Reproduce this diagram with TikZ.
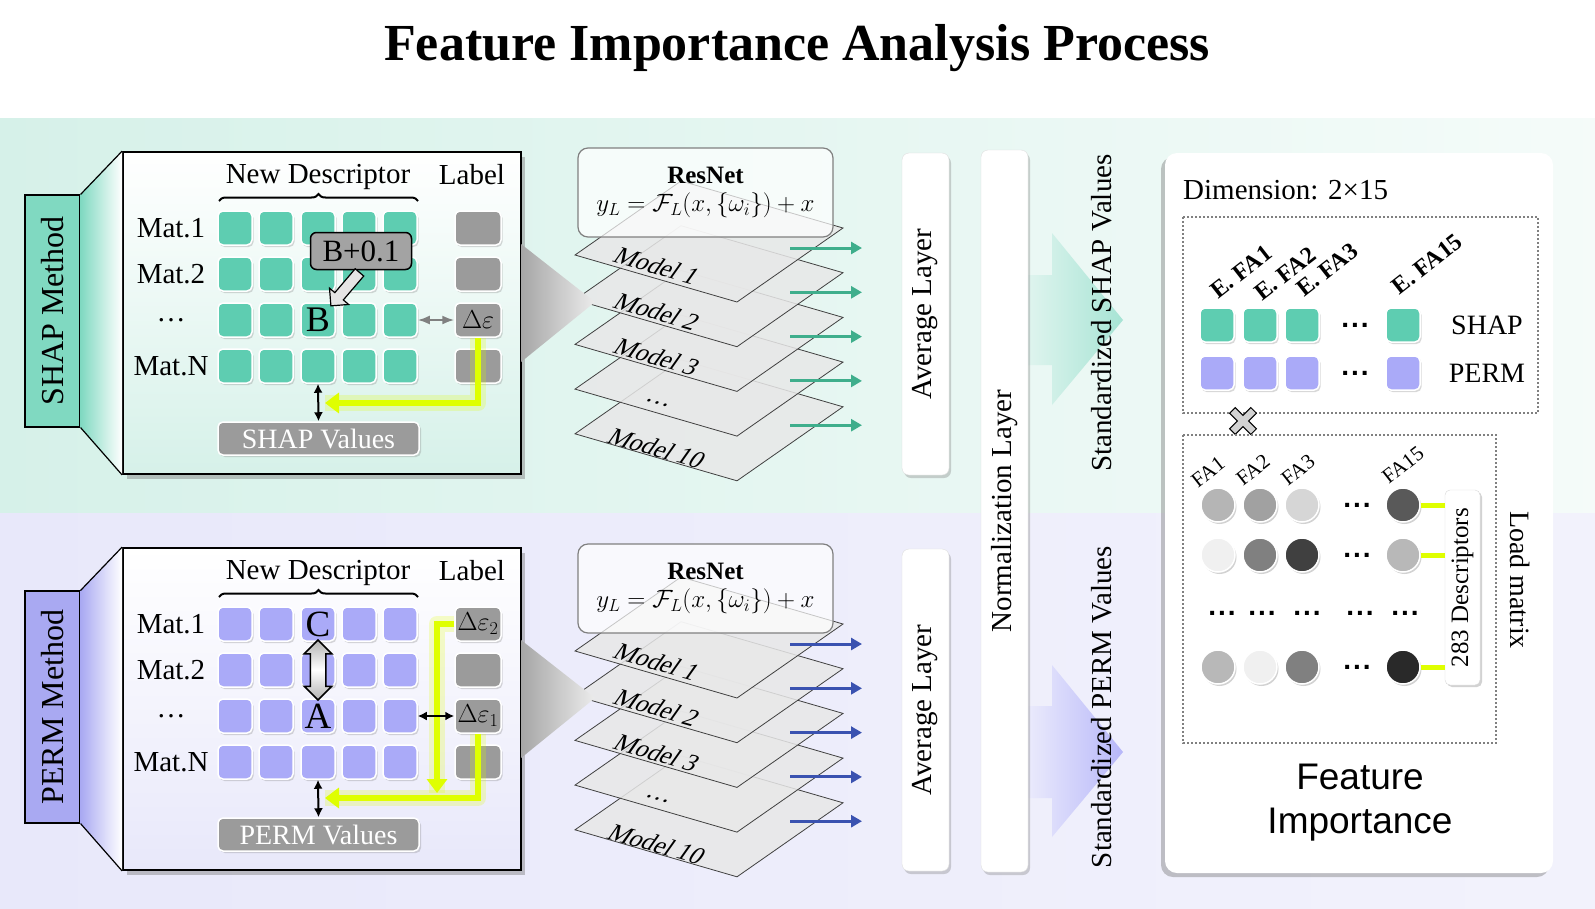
\RequirePackage{fix-cm}
\documentclass[tikz,border=0pt]{standalone}
\usepackage{graphicx}
\usepackage{fontspec}
\setmainfont{Liberation Serif}
\setsansfont{Liberation Sans}
\usetikzlibrary{positioning,shadows,shapes.arrows,decorations.pathreplacing,arrows.meta}

\newcommand{\fsz}[1]{\fontsize{#1}{#1}\selectfont}
\newcommand{\bdots}{{\sffamily\bfseries .\kern2pt.\kern2pt.}}

\definecolor{shapgreen}{HTML}{5ECDB1}
\definecolor{permblue}{HTML}{AAAAF8}
\definecolor{shapbox}{HTML}{80D9C1}
\definecolor{permbox}{HTML}{A9A9F2}
\definecolor{shapbg}{HTML}{D6F1E9}
\definecolor{permbg}{HTML}{E8E8FA}
\definecolor{lblgray}{HTML}{9B9B9B}
\definecolor{glowyellow}{HTML}{DFFF00}
\definecolor{shaparrow}{HTML}{3FAE8C}
\definecolor{permarrow}{HTML}{3A52B0}

\tikzset{
  txt/.style={font=\fsz{29}, inner sep=0pt},
  celltxt/.style={font=\fsz{26}, inner sep=0pt},
  cell/.style={draw=white, line width=1.5pt, rounded corners=5pt, minimum width=34pt, minimum height=34pt, inner sep=0pt,
    drop shadow={opacity=0.3, shadow xshift=1.5pt, shadow yshift=-2pt}},
  lblcell/.style={cell, fill=lblgray, minimum width=46pt},
  methodbox/.style={draw, line width=1.2pt, minimum width=55pt, minimum height=232pt, inner sep=0pt, font=\fsz{32}},
  panel/.style={draw, line width=1.8pt, minimum width=398pt, minimum height=322pt, inner sep=0pt,
    drop shadow={opacity=0.45, shadow xshift=4pt, shadow yshift=-5pt}},
  valbox/.style={fill=lblgray, draw=white, line width=1.5pt, rounded corners=5pt, minimum width=201pt, minimum height=33pt,
    inner sep=0pt, text=white, font=\fsz{28}, drop shadow={opacity=0.3, shadow xshift=2pt, shadow yshift=-2pt}},
  plate/.style={draw=black!75, line width=0.8pt, fill=gray!18, fill opacity=0.85},
  platelbl/.style={font=\fsz{25}, rotate=-16, xslant=0.35, inner sep=0pt},
  resbox/.style={draw=gray, line width=1.2pt, rounded corners=10pt, fill=white, fill opacity=0.7, text opacity=1,
    minimum width=255pt, minimum height=89pt, align=center, font=\fsz{25}},
  modelarrow/.style={line width=3pt, -{Triangle[length=11pt,width=12pt]}},
  layerbox/.style={fill=white, draw=gray!25, rounded corners=7pt, minimum width=47pt, inner sep=0pt, font=\fsz{29},
    drop shadow={opacity=0.35, shadow xshift=2pt, shadow yshift=-3pt}},
  glow/.style={line width=16pt, draw=glowyellow, opacity=0.22, line join=round},
  yline/.style={line width=6pt, draw=glowyellow, -{Triangle[length=14pt,width=20pt]}},
  blkarrow/.style={line width=2pt, {Latex[length=9pt,width=9pt]}-{Latex[length=9pt,width=9pt]}},
  hollowarrow/.style={single arrow, draw, line width=1.2pt, fill=gray!20, minimum height=44pt, inner sep=5pt,
    single arrow head extend=7pt},
  swaparrow/.style={double arrow, draw, line width=1.5pt, top color=gray!60, bottom color=gray!60, middle color=white,
    minimum height=60pt, inner sep=7pt, double arrow head extend=6pt, rotate=90},
  fipanel/.style={fill=white, rounded corners=12pt, minimum width=388pt, minimum height=720pt,
    drop shadow={opacity=0.45, shadow xshift=-4pt, shadow yshift=-4pt}},
  dotbox/.style={draw=gray, line width=1.5pt, dash pattern=on 2pt off 2pt},
  efa/.style={font=\bfseries\fsz{24}, rotate=38, inner sep=0pt},
  falbl/.style={font=\fsz{21}, rotate=38, inner sep=0pt},
  bigdots/.style={font=\fsz{28}, inner sep=0pt},
  facirc/.style={circle, draw=white, line width=1.5pt, minimum size=34pt, inner sep=0pt,
    drop shadow={opacity=0.35, shadow xshift=1.5pt, shadow yshift=-2pt}},
  descbox/.style={fill=white, draw=gray!30, rounded corners=5pt, minimum width=35pt, minimum height=195pt, inner sep=0pt,
    font=\fsz{25}, drop shadow={opacity=0.35, shadow xshift=2pt, shadow yshift=-2pt}},
  ylink/.style={line width=5pt, draw=glowyellow}
}

\begin{document}
\begin{tikzpicture}[x=1pt, y=-1pt, >=Latex]
\useasboundingbox (0,0) rectangle (1595,908);

% background bands
\fill[white] (0,0) rectangle (1595,118);
\shade[left color=shapbg, right color=shapbg!25!white] (0,118) rectangle (1595,513);
\shade[left color=permbg, right color=permbg!55!white] (0,513) rectangle (1595,908);

\node[font=\bfseries\fsz{52}] (title) at (797,48) {Feature Importance Analysis Process};

% SHAP block (top) and PERM block (bottom)
\foreach \hp/\off/\cellc/\boxc/\bgc/\arrc/\meth in {s/0/shapgreen/shapbox/shapbg/shaparrow/SHAP, p/396/permblue/permbox/permbg/permarrow/PERM} {
  \node[panel, top color=white, bottom color=\bgc] (\hp-panel) at (322,313+\off) {};
  \node[methodbox, fill=\boxc] (\hp-meth) at (52.5,311+\off) {\rotatebox{90}{\meth\ Method}};
  \shade[left color=\boxc, right color=white] (\hp-meth.north east) -- (\hp-panel.north west) -- (\hp-panel.south west) -- (\hp-meth.south east) -- cycle;
  \draw[line width=1.2pt] (\hp-meth.north east) -- (\hp-panel.north west) (\hp-meth.south east) -- (\hp-panel.south west);

  \node[txt, anchor=base] (\hp-newd) at (318,183+\off) {New Descriptor};
  \node[txt, anchor=base] (\hp-lab) at (472,184+\off) {Label};
  \draw[line width=2pt, decorate, decoration={brace, amplitude=7pt}] (219,201+\off) -- (418,201+\off);

  \foreach \r/\y/\mat in {1/228/Mat.1, 2/274/Mat.2, 3/320/\dots, 4/366/Mat.N} {
    \node[txt] (\hp-m\r) at (171,\y+\off) {\mat};
    \foreach \c/\x in {1/235, 2/276, 3/318, 4/359, 5/400}
      \node[cell, fill=\cellc] (\hp-\r\c) at (\x,\y+\off) {};
    \node[lblcell] (\hp-l\r) at (478,\y+\off) {};
  }

  % ten ResNet models
  \foreach \i/\lab in {4/Model 10, 3/\dots, 2/Model 3, 1/Model 2, 0/Model 1} {
    \draw[plate] (575,255+44.7*\i+\off) -- (737,302+44.7*\i+\off) -- (843,228+44.7*\i+\off) -- (681,181+44.7*\i+\off) -- cycle;
    \node[platelbl] (\hp-mod\i) at (657,266+45.5*\i+\off) {\lab};
  }
  \node[resbox] (\hp-res) at (705.5,192.5+\off) {\textbf{ResNet}\\[3pt]$y_L=\mathcal{F}_L(x,\{\omega_i\})+x$};
  \foreach \i in {0,...,4} {
    \coordinate (\hp-a\i) at (790,248+44.3*\i+\off);
    \coordinate (\hp-b\i) at (862,248+44.3*\i+\off);
    \draw[modelarrow, color=\arrc] (\hp-a\i) -- (\hp-b\i);
  }
  \shade[left color=gray!70, right color=gray!15] (521,244+\off) -- (595,302+\off) -- (521,362+\off) -- cycle;

  \node[layerbox, minimum height=322pt] (\hp-avg) at (925.5,314+\off) {\rotatebox{90}{Average Layer}};

  \node[valbox] (\hp-val) at (318.5,438.5+\off) {\meth\ Values};
  \draw[blkarrow] (\hp-43.south) -- (\hp-val.north);
}

% SHAP: perturb one descriptor
\node[fill=black!36, draw, line width=1.5pt, rounded corners=6pt, minimum width=101pt, minimum height=37pt, inner sep=0pt, font=\fsz{31}] (bplus) at (361,251) {B+0.1};
\node[hollowarrow, rotate=229.5] (barrow) at (347,287) {};
\node[celltxt, font=\fsz{36}] (bval) at (s-33) {B};
\draw[<->, gray, line width=2pt] (s-35) -- (s-l3);
\node[celltxt] (sde) at (s-l3) {$\Delta\varepsilon$};
\coordinate (s-yend) at (325,403);
\draw[glow] (s-l3.south) |- (s-yend);
\draw[yline] (s-l3.south) |- (s-yend);

% PERM: swap two entries
\node[swaparrow] (pswap) at (p-23) {};
\node[celltxt, font=\fsz{37}] (cval) at (p-13) {C};
\node[celltxt, font=\fsz{37}] (aval) at (p-33) {A};
\node[celltxt] (pde2) at (p-l1) {$\Delta\varepsilon_2$};
\node[celltxt] (pde1) at (p-l3) {$\Delta\varepsilon_1$};
\coordinate (p-ydown) at (437,793);
\coordinate (p-yend) at (325,798);
\draw[glow] (p-l1.west) -| (p-ydown);
\draw[yline] (p-l1.west) -| (p-ydown);
\draw[glow] (p-l3.south) |- (p-yend);
\draw[yline] (p-l3.south) |- (p-yend);
\draw[blkarrow] (p-35) -- (p-l3);

% standardized value arrows
\shade[left color=shapbg!60!white, right color=shapgreen!55] (1015,275) -- (1052,275) -- (1052,233) -- (1123,320) -- (1052,405) -- (1052,365) -- (1015,365) -- cycle;
\shade[left color=permbg!60!white, right color=permblue!85] (1015,706) -- (1052,706) -- (1052,665) -- (1123,752) -- (1052,837) -- (1052,798) -- (1015,798) -- cycle;
\node[layerbox, minimum height=722pt] (norm) at (1004.5,511) {\rotatebox{90}{Normalization Layer}};
\node[txt] (stdshap) at (1102,313) {\rotatebox{90}{Standardized SHAP Values}};
\node[txt] (stdperm) at (1102,707) {\rotatebox{90}{Standardized PERM Values}};

% feature importance panel
\node[fipanel] (fi) at (1359,513) {};
\node[txt, anchor=west, font=\fsz{29}] (dim) at (1183,190) {Dimension: 2×15};
\draw[dotbox] (1183,217) rectangle (1538,413);
\foreach \n/\x/\y/\t in {1/1241/272/E. FA1, 2/1285/274/E. FA2, 3/1327/270/E. FA3, 4/1427/264/E. FA15}
  \node[efa] (ef\n) at (\x,\y) {\t};
\foreach \n/\x in {1/1217, 2/1260, 3/1302, 4/1403} {
  \node[cell, fill=shapgreen] (fs\n) at (\x,325) {};
  \node[cell, fill=permblue] (fp\n) at (\x,373) {};
}
\node[bigdots] (fsd) at (1355,325) {\bdots};
\node[bigdots] (fpd) at (1355,373) {\bdots};
\node[txt, font=\fsz{28}] (fsl) at (1487,325) {SHAP};
\node[txt, font=\fsz{28}] (fpl) at (1487,373) {PERM};
\draw[fill=gray!35, line width=1pt, shift={(1243,421)}, rotate=45]
  (-4,-15) -- (4,-15) -- (4,-4) -- (15,-4) -- (15,4) -- (4,4) -- (4,15) -- (-4,15) -- (-4,4) -- (-15,4) -- (-15,-4) -- (-4,-4) -- cycle;

\draw[dotbox] (1183,435) rectangle (1496,743);
\foreach \n/\x/\y in {1/1208/472, 2/1253/470, 3/1298/470, 15/1403/465}
  \node[falbl] (fa\n) at (\x,\y) {FA\n};
\node[descbox] (desc) at (1462.5,587.5) {\rotatebox{90}{283 Descriptors}};
\node[txt, font=\fsz{28}] (loadm) at (1520,580) {\rotatebox{-90}{Load matrix}};
\foreach \r/\y/\ga/\gb/\gc/\gd in {1/505/29/37/16/65, 2/555/6/50/75/28, 4/667/28/6/50/84} {
  \node[facirc, fill=black!\ga] (c\r1) at (1218,\y) {};
  \node[facirc, fill=black!\gb] (c\r2) at (1260,\y) {};
  \node[facirc, fill=black!\gc] (c\r3) at (1302,\y) {};
  \node[facirc, fill=black!\gd] (c\r4) at (1403,\y) {};
  \node[bigdots] (cd\r) at (1357,\y) {\bdots};
  \draw[ylink] (c\r4.east) -- (c\r4.east -| desc.west);
}
\foreach \n/\x in {1/1222, 2/1262, 3/1307, 4/1360, 5/1405}
  \node[bigdots] (rd\n) at (\x,613) {\bdots};

\node[font=\sffamily\fontsize{37}{44}\selectfont, align=center] (fititle) at (1360,803) {Feature\\Importance};

\end{tikzpicture}
\end{document}
